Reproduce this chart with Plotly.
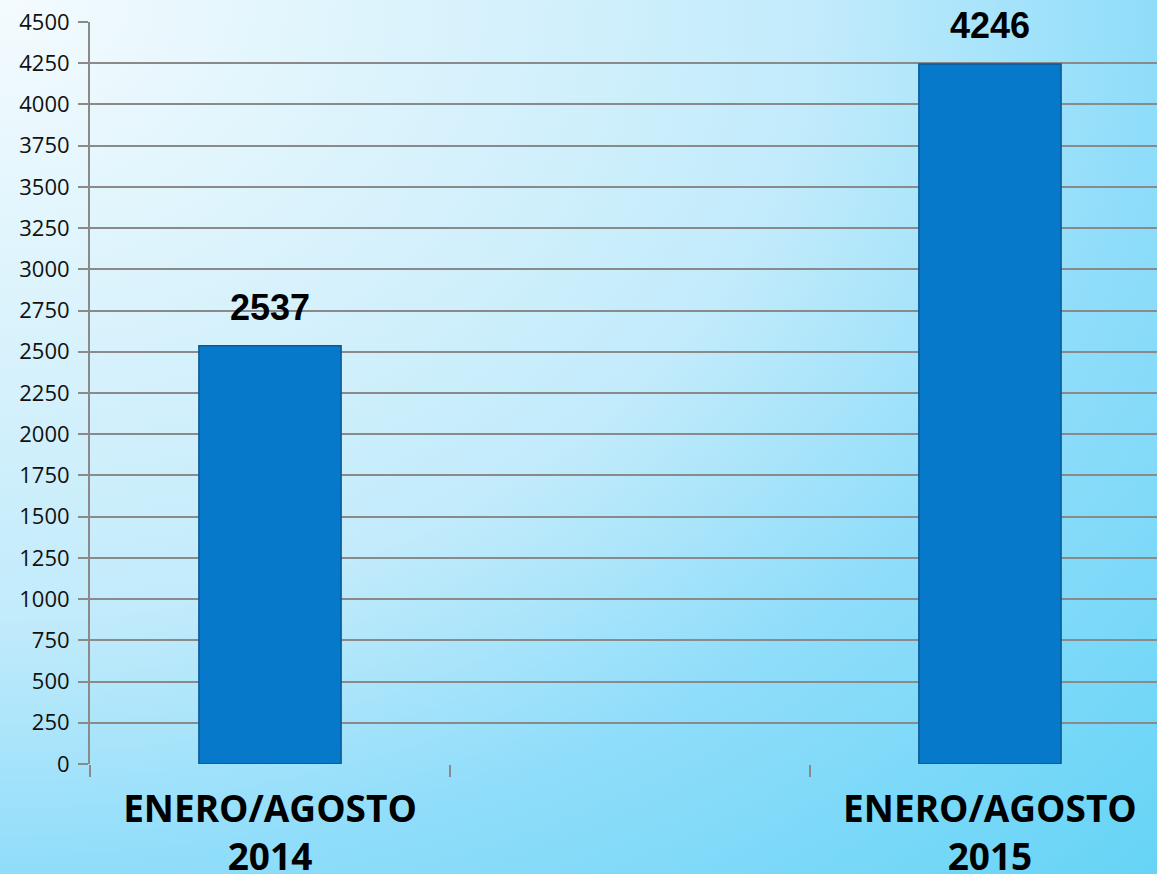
import plotly.graph_objects as go
import urllib.parse

# ---- data ----
categories = ["ENERO/AGOSTO<br>2014", " ", "ENERO/AGOSTO<br>2015"]
bar_categories = ["ENERO/AGOSTO<br>2014", "ENERO/AGOSTO<br>2015"]
values = [2537, 4246]
y_ticks = list(range(0, 4501, 250))

W, H = 1157, 874

svg = (
    f'<svg xmlns="http://www.w3.org/2000/svg" width="{W}" height="{H}" viewBox="0 0 {W} {H}" preserveAspectRatio="none">'
    '<defs><radialGradient id="g" cx="0" cy="0" r="1.414" fx="0" fy="0">'
    '<stop offset="0" stop-color="#F4FBFE"/>'
    '<stop offset="0.5" stop-color="#C2EBFB"/>'
    '<stop offset="0.707" stop-color="#8FDDFA"/>'
    '<stop offset="1" stop-color="#66D4F6"/>'
    '</radialGradient></defs>'
    f'<rect x="0" y="0" width="{W}" height="{H}" fill="url(#g)"/></svg>'
)
svg_uri = "data:image/svg+xml;charset=utf-8," + urllib.parse.quote(svg)

fig = go.Figure()
fig.add_trace(go.Bar(
    x=bar_categories, y=values, width=0.395,
    marker=dict(color="#0779CB", line=dict(color="#0A5896", width=1.5)),
    hoverinfo="skip",
))

for c, v in zip(bar_categories, values):
    fig.add_annotation(x=c, y=v, text=f"<b>{v}</b>", showarrow=False,
                       yanchor="bottom", yshift=16,
                       font=dict(family="Liberation Sans", size=36, color="black"))

fig.update_layout(
    width=W, height=H,
    margin=dict(l=90, r=0, t=22, b=110),
    paper_bgcolor="rgba(0,0,0,0)",
    plot_bgcolor="rgba(0,0,0,0)",
    showlegend=False,
    images=[dict(source=svg_uri, xref="paper", yref="paper", x=-90/1067, y=1 + 22/742,
                 sizex=W/1067, sizey=H/742, xanchor="left", yanchor="top",
                 sizing="stretch", layer="below")],
    xaxis=dict(
        type="category", categoryorder="array", categoryarray=categories,
        range=[-0.5, 2.464], tickson="boundaries", automargin=False,
        ticks="outside", ticklen=12, tickwidth=2, tickcolor="#8a8a8a",
        showline=False, showgrid=False, zeroline=False,
        tickfont=dict(family="Open Sans", size=37, color="black", weight="bold"),
        ticklabelstandoff=20,
    ),
    yaxis=dict(
        range=[0, 4500], tickvals=y_ticks, automargin=False,
        ticks="outside", ticklen=10, tickwidth=2, tickcolor="#8a8a8a",
        showgrid=True, gridcolor="#8a8a8a", gridwidth=2,
        showline=True, linecolor="#8a8a8a", linewidth=2,
        zeroline=False,
        tickfont=dict(family="Open Sans", size=22, color="#111111"),
        ticklabelstandoff=4,
    ),
)

fig.write_html("out.html", config={"displayModeBar": False},
               post_script="document.body.style.margin='0';document.body.style.overflow='hidden';")
